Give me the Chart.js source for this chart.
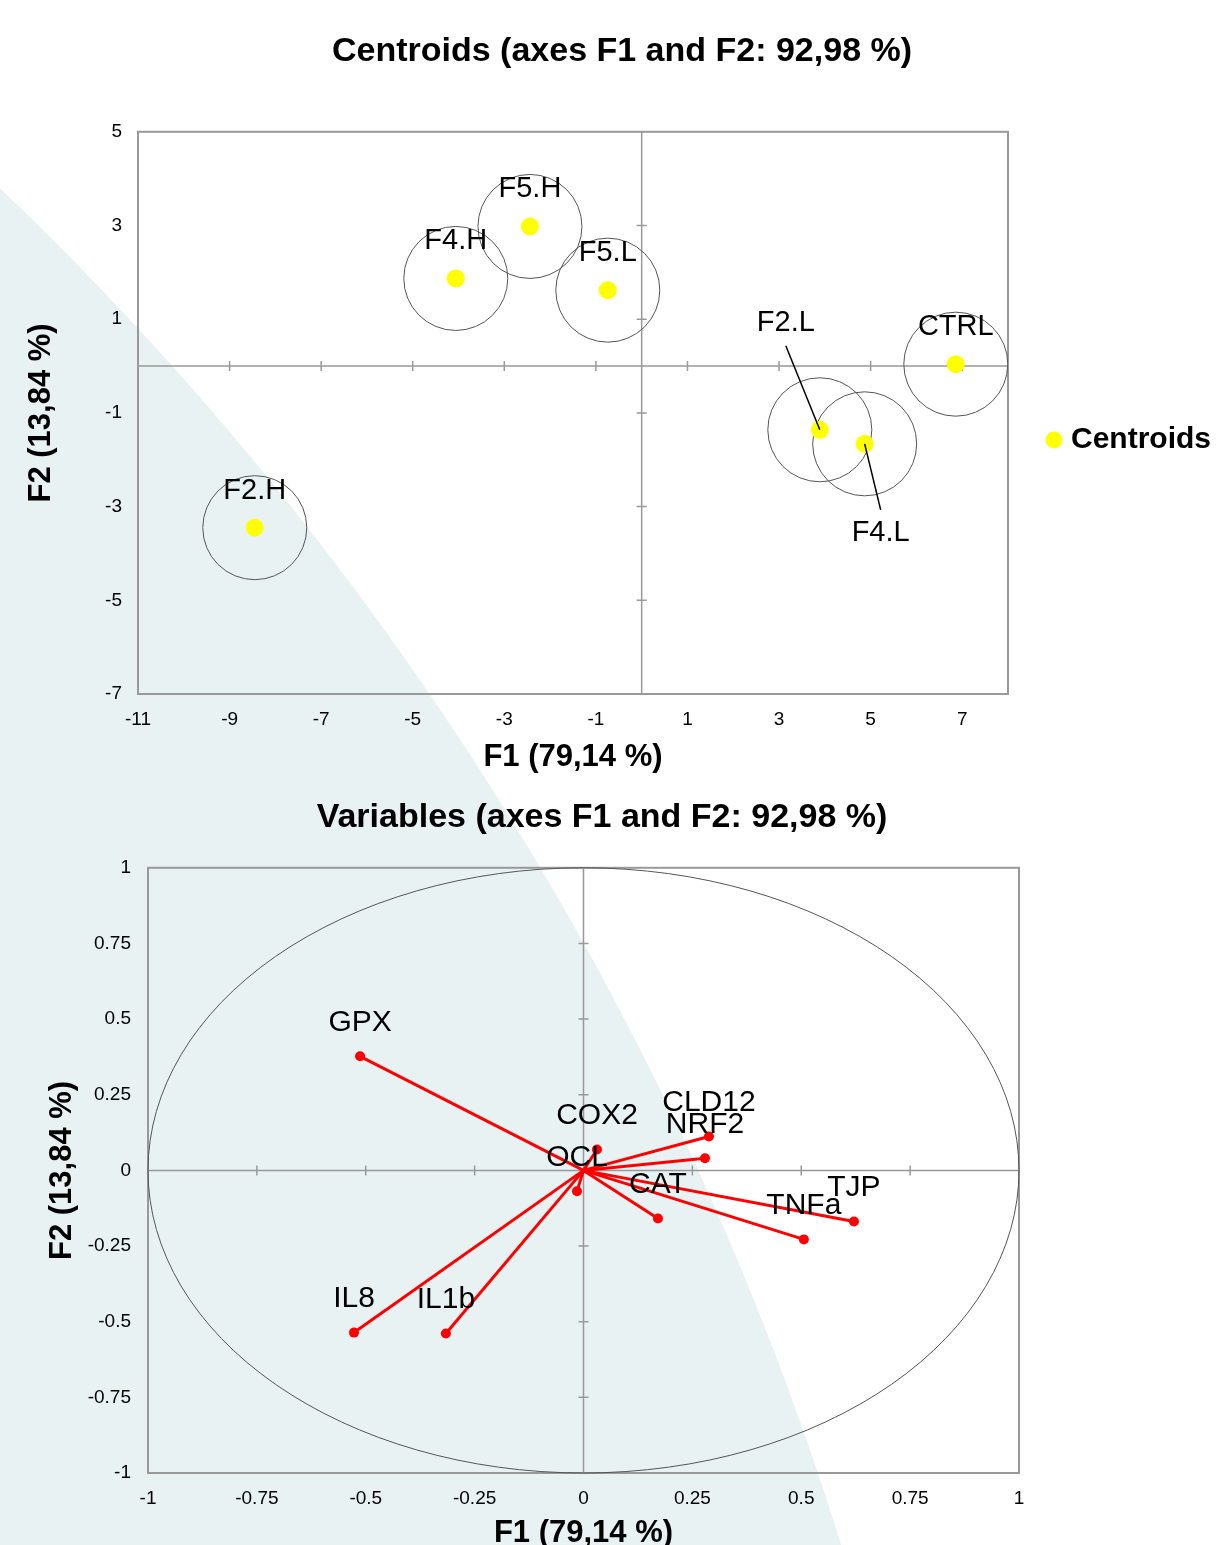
<!DOCTYPE html>
<html>
<head>
<meta charset="utf-8">
<title>Centroids / Variables</title>
<script src="https://cdn.jsdelivr.net/npm/chart.js@4.4.1/dist/chart.umd.min.js"></script>
<style>
  html, body { margin: 0; padding: 0; width: 1217px; height: 1545px; overflow: hidden; }
  body {
    position: relative;
    background: radial-gradient(circle 3181px at -2196px 2489px, #e8f2f3 3180px, #ffffff 3181px);
  }
  #centroids-wrap { position: absolute; left: 23px; top: 0; }
  #variables-wrap { position: absolute; left: 0; top: 790px; }
</style>
</head>
<body>
<div id="centroids-wrap"><canvas id="centroids-chart" width="1198" height="790"></canvas></div>
<div id="variables-wrap"><canvas id="variables-chart" width="1204" height="780"></canvas></div>
<script>
// Datos: centroides (F1, F2)
const centroidNames = ["CTRL", "F2.L", "F4.L", "F5.L", "F5.H", "F4.H", "F2.H"];
const centroidF1 = [6.86, 3.89, 4.87, -0.74, -2.44, -4.06, -8.45];
const centroidF2 = [0.04, -1.36, -1.66, 1.62, 2.98, 1.87, -3.45];
const centroidXTicks = [-11, -9, -7, -5, -3, -1, 1, 3, 5, 7];
const centroidYTicks = [5, 3, 1, -1, -3, -5, -7];

// Datos: variables (cargas sobre F1, F2)
const variableNames = ["GPX", "COX2", "CLD12", "NRF2", "OCL", "CAT", "TNFa", "TJP", "IL8", "IL1b"];
const variableF1 = [-0.513, 0.031, 0.288, 0.279, -0.015, 0.171, 0.506, 0.621, -0.527, -0.316];
const variableF2 = [0.377, 0.069, 0.112, 0.040, -0.069, -0.159, -0.228, -0.169, -0.536, -0.539];
const variableTicks = [-1, -0.75, -0.5, -0.25, 0, 0.25, 0.5, 0.75, 1];

// Posición de etiquetas especiales (con línea guía)
const centroidLabelOffsets = {
  "F2.L": { dx: -34, dy: -107, leader: 23 },
  "F4.L": { dx: 16, dy: 89, leader: 23 },
};

Chart.defaults.font.family = '"Liberation Sans", Arial, sans-serif';
Chart.defaults.color = "#000";
Chart.defaults.animation = false;
Chart.defaults.events = [];
Chart.defaults.plugins.tooltip.enabled = false;

const frameColor = "#999999";

// Marco, ejes en cero y (opcional) círculo de correlaciones
function axesPlugin(withCircle) {
  return {
    id: "pcaAxes",
    beforeDatasetsDraw(chart) {
      const { ctx, chartArea: a, scales: { x, y } } = chart;
      const x0 = x.getPixelForValue(0);
      const y0 = y.getPixelForValue(0);
      ctx.save();
      ctx.strokeStyle = frameColor;
      ctx.lineWidth = 2;
      ctx.strokeRect(a.left, a.top, a.width, a.height);
      ctx.lineWidth = 1.5;
      ctx.beginPath();
      ctx.moveTo(a.left, y0);
      ctx.lineTo(a.right, y0);
      ctx.moveTo(x0, a.top);
      ctx.lineTo(x0, a.bottom);
      x.ticks.forEach(t => {
        if (t.value === x.min || t.value === x.max || t.value === 0) return;
        const px = x.getPixelForValue(t.value);
        ctx.moveTo(px, y0 - 5);
        ctx.lineTo(px, y0 + 5);
      });
      y.ticks.forEach(t => {
        if (t.value === y.min || t.value === y.max || t.value === 0) return;
        const py = y.getPixelForValue(t.value);
        ctx.moveTo(x0 - 5, py);
        ctx.lineTo(x0 + 5, py);
      });
      ctx.stroke();
      if (withCircle) {
        ctx.strokeStyle = "#555";
        ctx.lineWidth = 1;
        ctx.beginPath();
        ctx.ellipse(x0, y0,
          Math.abs(x.getPixelForValue(1) - x0),
          Math.abs(y.getPixelForValue(1) - y0), 0, 0, Math.PI * 2);
        ctx.stroke();
      }
      ctx.restore();
    },
  };
}

// Etiquetas de texto encima de cada punto
function labelPlugin(names, getPoint, fontSize, defaultDy, offsets) {
  return {
    id: "pointLabels",
    afterDatasetsDraw(chart) {
      const ctx = chart.ctx;
      ctx.save();
      ctx.font = fontSize + 'px "Liberation Sans", Arial, sans-serif';
      ctx.fillStyle = "#000";
      ctx.strokeStyle = "#000";
      ctx.lineWidth = 1.5;
      ctx.textAlign = "center";
      ctx.textBaseline = "middle";
      names.forEach((name, i) => {
        const p = getPoint(chart, i);
        const off = offsets[name] || { dx: 0, dy: defaultDy };
        const lx = p.x + off.dx;
        const ly = p.y + off.dy;
        if (off.leader) {
          const sy = ly + (off.dy < 0 ? off.leader : -off.leader);
          ctx.beginPath();
          ctx.moveTo(lx, sy);
          ctx.lineTo(p.x, p.y);
          ctx.stroke();
        }
        ctx.fillText(name, lx, ly);
      });
      ctx.restore();
    },
  };
}

function fixedTicks(values) {
  return scale => { scale.ticks = values.map(v => ({ value: v })); };
}

// Gráfico 1: centroides
const centroidPoints = centroidNames.map((n, i) => ({ x: centroidF1[i], y: centroidF2[i] }));

new Chart(document.getElementById("centroids-chart"), {
  type: "scatter",
  data: {
    datasets: [
      {
        label: "Centroids",
        data: centroidPoints,
        pointRadius: 9,
        backgroundColor: "#ffff00",
        borderColor: "#ffff00",
        borderWidth: 0,
      },
      {
        label: "circles",
        data: centroidPoints,
        pointRadius: 52,
        backgroundColor: "rgba(0,0,0,0)",
        borderColor: "#555",
        borderWidth: 1,
      },
    ],
  },
  options: {
    responsive: false,
    layout: { padding: 0 },
    plugins: {
      title: {
        display: true,
        text: "Centroids (axes F1 and F2: 92,98 %)",
        font: { size: 34, weight: "bold" },
        color: "#000",
        padding: { top: 31, bottom: 60 },
      },
      legend: {
        position: "right",
        align: "center",
        // título vacío: solo sirve para bajar la leyenda
        title: { display: true, text: "", font: { size: 30 }, padding: { top: 54, bottom: 0 } },
        labels: {
          usePointStyle: true,
          pointStyle: "circle",
          boxWidth: 4,
          boxHeight: 12,
          padding: 44,
          font: { size: 30, weight: "bold" },
          color: "#000",
          filter: item => item.datasetIndex === 0,
        },
      },
    },
    scales: {
      x: {
        type: "linear",
        min: -11,
        max: 8,
        afterBuildTicks: fixedTicks(centroidXTicks),
        afterFit: s => { s.height = 96; },
        grid: { display: false, drawTicks: false },
        border: { display: false },
        ticks: { font: { size: 19 }, padding: 14, callback: v => String(v) },
        title: {
          display: true,
          text: "F1 (79,14 %)",
          font: { size: 31, weight: "bold" },
          padding: { top: 0, bottom: 14 },
        },
      },
      y: {
        type: "linear",
        min: -7,
        max: 5,
        afterBuildTicks: fixedTicks(centroidYTicks),
        afterFit: s => { s.width = 115; },
        grid: { display: false, drawTicks: false },
        border: { display: false },
        ticks: { font: { size: 19 }, padding: 16, callback: v => String(v) },
        title: {
          display: true,
          text: "F2 (13,84 %)",
          font: { size: 31, weight: "bold" },
          padding: { top: 0, bottom: 0 },
        },
      },
    },
  },
  plugins: [
    axesPlugin(false),
    labelPlugin(centroidNames, (chart, i) => chart.getDatasetMeta(0).data[i], 29, -37, centroidLabelOffsets),
  ],
});

// Gráfico 2: variables (círculo de correlaciones)
const vectorDatasets = variableNames.map((name, i) => ({
  label: name,
  data: [{ x: 0, y: 0 }, { x: variableF1[i], y: variableF2[i] }],
  showLine: true,
  borderColor: "#ff0000",
  borderWidth: 3,
  pointRadius: [0, 5],
  pointBackgroundColor: "#ff0000",
  pointBorderWidth: 0,
}));

new Chart(document.getElementById("variables-chart"), {
  type: "scatter",
  data: { datasets: vectorDatasets },
  options: {
    responsive: false,
    layout: { padding: 0 },
    plugins: {
      legend: { display: false },
      title: {
        display: true,
        text: "Variables (axes F1 and F2: 92,98 %)",
        font: { size: 34, weight: "bold" },
        color: "#000",
        padding: { top: 7, bottom: 30 },
      },
    },
    scales: {
      x: {
        type: "linear",
        min: -1,
        max: 1,
        afterBuildTicks: fixedTicks(variableTicks),
        afterFit: s => { s.height = 97; },
        grid: { display: false, drawTicks: false },
        border: { display: false },
        ticks: { font: { size: 19 }, padding: 14, callback: v => String(v) },
        title: {
          display: true,
          text: "F1 (79,14 %)",
          font: { size: 31, weight: "bold" },
          padding: { top: 0, bottom: 18 },
        },
      },
      y: {
        type: "linear",
        min: -1,
        max: 1,
        afterBuildTicks: fixedTicks(variableTicks),
        afterFit: s => { s.width = 148; },
        grid: { display: false, drawTicks: false },
        border: { display: false },
        ticks: { font: { size: 19 }, padding: 17, callback: v => String(v) },
        title: {
          display: true,
          text: "F2 (13,84 %)",
          font: { size: 31, weight: "bold" },
          padding: { top: 44, bottom: 0 },
        },
      },
      // eje derecho invisible: centra el título como en el original
      yRight: {
        type: "linear",
        position: "right",
        display: true,
        afterFit: s => { s.width = 185; },
        grid: { display: false, drawTicks: false },
        border: { display: false },
        ticks: { display: false },
      },
    },
  },
  plugins: [
    axesPlugin(true),
    labelPlugin(variableNames, (chart, i) => chart.getDatasetMeta(i).data[1], 30, -34, {}),
  ],
});
</script>
</body>
</html>
